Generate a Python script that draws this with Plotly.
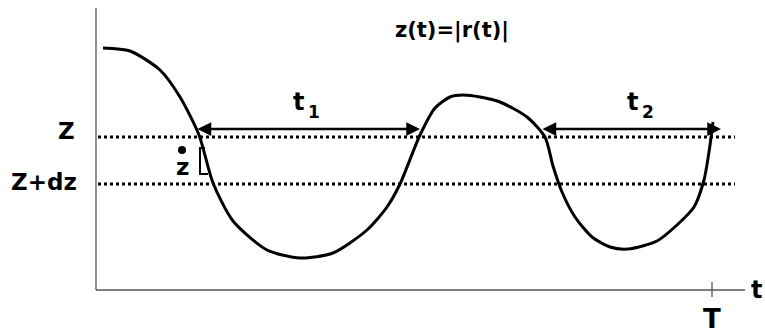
import plotly.graph_objects as go

# Sketch of z(t) = |r(t)| crossing the levels Z and Z+dz, in canvas units (y grows downward)
curve_x = [103, 130, 160, 180, 199, 213, 233, 267, 300, 333, 367, 387, 400,
           420, 435, 450, 463, 480, 500, 527, 545, 553, 562, 575, 592, 610, 628,
           657, 677, 694, 704, 709, 713]
curve_y = [48, 51, 70, 97, 135, 183, 221, 250, 258, 253, 230, 207, 184,
           135, 108, 97, 95, 97, 102, 117, 137, 166, 192, 217, 237, 247, 249,
           241, 225, 207, 180, 152, 122]

level_z = 137        # Z
level_zdz = 184      # Z+dz
axis_x0, axis_y0 = 96, 290
axis_top, axis_right = 8, 745
t_end = 712          # T

# Dwell intervals t1, t2: (symbol, index, start, end, symbol x, index x)
intervals = [("t", "1", 196, 420, 298, 314), ("t", "2", 541, 721, 632, 648)]
arrow_y = 129

FONT = "DejaVu Sans, Arial, sans-serif"

fig = go.Figure()
fig.add_trace(go.Scatter(x=curve_x, y=curve_y, mode="lines",
                         line=dict(color="black", width=3, shape="spline", smoothing=0.7),
                         hoverinfo="skip", showlegend=False))

shapes = [
    # axes
    dict(type="line", x0=axis_x0, x1=axis_x0, y0=axis_top, y1=axis_y0,
         line=dict(color="#555555", width=1.3)),
    dict(type="line", x0=axis_x0, x1=axis_right, y0=axis_y0, y1=axis_y0,
         line=dict(color="#555555", width=1.3)),
    # T tick
    dict(type="line", x0=t_end, x1=t_end, y0=282, y1=297,
         line=dict(color="#555555", width=1.3)),
    # levels
    dict(type="line", x0=98, x1=735, y0=level_z, y1=level_z,
         line=dict(color="black", width=3, dash="dot")),
    dict(type="line", x0=98, x1=735, y0=level_zdz, y1=level_zdz,
         line=dict(color="black", width=3, dash="dot")),
    # slope bracket next to z-dot
    dict(type="path", path="M 205 148 L 200 148 L 200 174 L 208 174",
         line=dict(color="black", width=2)),
    # dot of z-dot
    dict(type="circle", x0=178, x1=186, y0=146, y1=154,
         fillcolor="black", line=dict(width=0)),
]

annotations = []
for name, sub, x0, x1, tx, sx in intervals:
    annotations.append(dict(x=x1, y=arrow_y, ax=x0, ay=arrow_y, xref="x", yref="y",
                            axref="x", ayref="y", text="", showarrow=True,
                            arrowhead=2, arrowside="end+start", arrowsize=1.1,
                            arrowwidth=2.5, arrowcolor="black", standoff=0, startstandoff=0))
    annotations.append(dict(x=tx, y=102, text="<b>%s</b>" % name, showarrow=False,
                            font=dict(family=FONT, size=24, color="black")))
    annotations.append(dict(x=sx, y=112, text="<b>%s</b>" % sub, showarrow=False,
                            font=dict(family=FONT, size=17, color="black")))

labels = [
    ("z(t)=|r(t)|", 452, 30, 21),
    ("Z", 66, 131, 23),
    ("Z+dz", 44, 182, 23),
    ("z", 182, 167, 23),
    ("T", t_end, 319, 26),
    ("t", 756, 290, 24),
]
for txt, x, y, s in labels:
    annotations.append(dict(x=x, y=y, text="<b>%s</b>" % txt, showarrow=False,
                            font=dict(family=FONT, size=s, color="black")))

fig.update_layout(
    width=765, height=335, margin=dict(l=0, r=0, t=0, b=0),
    paper_bgcolor="white", plot_bgcolor="white",
    xaxis=dict(range=[0, 765], visible=False, fixedrange=True),
    yaxis=dict(range=[335, 0], visible=False, fixedrange=True),
    shapes=shapes, annotations=annotations, showlegend=False,
)

fig.write_html("out.html")
